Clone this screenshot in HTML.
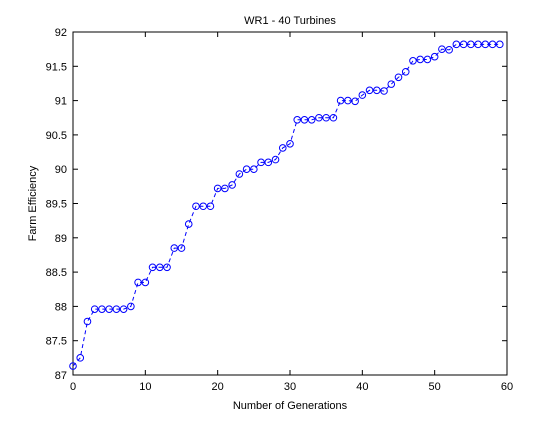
<!DOCTYPE html>
<html><head><meta charset="utf-8"><style>
body{margin:0;background:#fff;}
svg text{font-family:"Liberation Sans",sans-serif;font-size:11px;fill:#000;}
</style></head><body>
<svg id="chart" width="560" height="420" xmlns="http://www.w3.org/2000/svg"></svg>
<script>
const generations=[];for(let i=0;i<60;i++)generations.push(i);
const efficiency=[87.13,87.25,87.78,87.96,87.96,87.96,87.96,87.96,88.0,88.35,88.35,88.57,88.57,88.57,88.85,88.85,89.2,89.46,89.46,89.46,89.72,89.72,89.77,89.93,90.0,90.0,90.1,90.1,90.14,90.31,90.37,90.72,90.72,90.72,90.75,90.75,90.75,91.0,91.0,90.99,91.08,91.15,91.15,91.14,91.24,91.34,91.42,91.58,91.6,91.6,91.64,91.75,91.74,91.82,91.82,91.82,91.82,91.82,91.82,91.82];
const xTicks=[0,10,20,30,40,50,60];
const yTicks=[87,87.5,88,88.5,89,89.5,90,90.5,91,91.5,92];
const L=73,R=507,T=32,B=375;
const xs=v=>L+(v-0)/60*(R-L);
const ys=v=>B-(v-87)/5*(B-T);
const svg=document.getElementById('chart');const NS='http://www.w3.org/2000/svg';
function mk(t,a,p){const e=document.createElementNS(NS,t);for(const k in a)e.setAttribute(k,a[k]);(p||svg).appendChild(e);return e;}
const frame=mk('rect',{x:L,y:T,width:R-L,height:B-T,fill:'#fff',stroke:'#000','stroke-width':1});


xTicks.forEach(v=>{const x=xs(v);
mk('line',{x1:x,x2:x,y1:B,y2:B-5,stroke:'#000'});mk('line',{x1:x,x2:x,y1:T,y2:T+5,stroke:'#000'});
const t=mk('text',{x:x,y:B+15,'text-anchor':'middle'});t.textContent=v;

});
yTicks.forEach(v=>{const y=ys(v);
mk('line',{x1:L,x2:L+5,y1:y,y2:y,stroke:'#000'});mk('line',{x1:R,x2:R-5,y1:y,y2:y,stroke:'#000'});
const t=mk('text',{x:L-6,y:y+4,'text-anchor':'end'});t.textContent=v;

});
const pts=generations.map((g,i)=>xs(g)+','+ys(efficiency[i])).join(' ');
const line=mk('polyline',{points:pts,fill:'none',stroke:'#0000ff','stroke-width':1,'stroke-dasharray':'4,3'});


generations.forEach((g,i)=>{const c=mk('circle',{cx:xs(g),cy:ys(efficiency[i]),r:3.3,fill:'none',stroke:'#0000ff','stroke-width':1});

});
const title=mk('text',{x:(L+R)/2,y:24,'text-anchor':'middle'});title.textContent='WR1 - 40 Turbines';


const xl=mk('text',{x:(L+R)/2,y:409,'text-anchor':'middle'});xl.textContent='Number of Generations';


const yl=mk('text',{x:0,y:0,'text-anchor':'middle',transform:'translate(36,'+((T+B)/2)+') rotate(-90)'});yl.textContent='Farm Efficiency';


</script>
</body></html>
